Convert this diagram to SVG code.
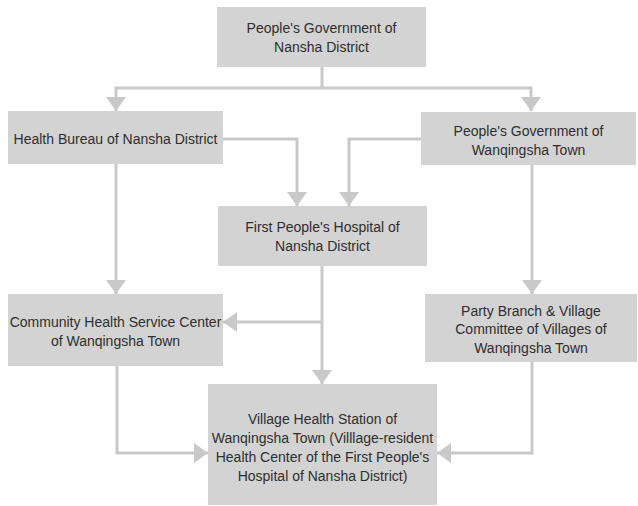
<svg xmlns="http://www.w3.org/2000/svg" width="638" height="506" viewBox="0 0 638 506">
<style>
.box{fill:#d3d3d4;}
.t{font-family:"Liberation Sans",Arial,sans-serif;font-size:14px;fill:#2e2e2e;text-anchor:middle;}
.c{fill:none;stroke:#c9c9ca;stroke-width:3;}
</style>
<defs>
<marker id="ah" markerUnits="userSpaceOnUse" markerWidth="14" markerHeight="20" refX="14" refY="10" orient="auto">
<path d="M0,0 L14,10 L0,20 Z" fill="#c9c9ca"/>
</marker>
</defs>
<rect width="638" height="506" fill="#fff"/>
<g id="connectors">
<path class="c" d="M322,67 V88"/>
<path class="c" d="M322,88 H116 V111" marker-end="url(#ah)"/>
<path class="c" d="M322,88 H531 V111" marker-end="url(#ah)"/>
<path class="c" d="M223,139 H297 V206" marker-end="url(#ah)"/>
<path class="c" d="M421,139 H349 V206" marker-end="url(#ah)"/>
<path class="c" d="M116,164 V294" marker-end="url(#ah)"/>
<path class="c" d="M532,165 V294" marker-end="url(#ah)"/>
<path class="c" d="M322,266 V384" marker-end="url(#ah)"/>
<path class="c" d="M322,322 H223" marker-end="url(#ah)"/>
<path class="c" d="M117,366 V453 H208" marker-end="url(#ah)"/>
<path class="c" d="M532,362 V453 H437" marker-end="url(#ah)"/>
</g>
<g id="n1"><rect class="box" x="217" y="7" width="209" height="60"/>
<text class="t" x="321.5" y="33">People's Government of</text>
<text class="t" x="321.5" y="52">Nansha District</text></g>
<g id="n2"><rect class="box" x="8" y="111" width="215" height="53"/>
<text class="t" x="115.5" y="144">Health Bureau of Nansha District</text></g>
<g id="n3"><rect class="box" x="421" y="112" width="215" height="53"/>
<text class="t" x="528.5" y="136">People's Government of</text>
<text class="t" x="528.5" y="155">Wanqingsha Town</text></g>
<g id="n4"><rect class="box" x="218" y="206" width="209" height="60"/>
<text class="t" x="322.5" y="232">First People's Hospital of</text>
<text class="t" x="322.5" y="251">Nansha District</text></g>
<g id="n5"><rect class="box" x="8" y="294" width="215" height="72"/>
<text class="t" x="115.5" y="327">Community Health Service Center</text>
<text class="t" x="115.5" y="346">of Wanqingsha Town</text></g>
<g id="n6"><rect class="box" x="425" y="294" width="212" height="68"/>
<text class="t" x="531" y="316">Party Branch &amp; Village</text>
<text class="t" x="531" y="334">Committee of Villages of</text>
<text class="t" x="531" y="353">Wanqingsha Town</text></g>
<g id="n7"><rect class="box" x="208" y="384" width="229" height="121"/>
<text class="t" x="322.5" y="424">Village Health Station of</text>
<text class="t" x="322.5" y="443">Wanqingsha Town (Villlage-resident</text>
<text class="t" x="322.5" y="462">Health Center of the First People's</text>
<text class="t" x="322.5" y="481">Hospital of Nansha District)</text></g>
</svg>
